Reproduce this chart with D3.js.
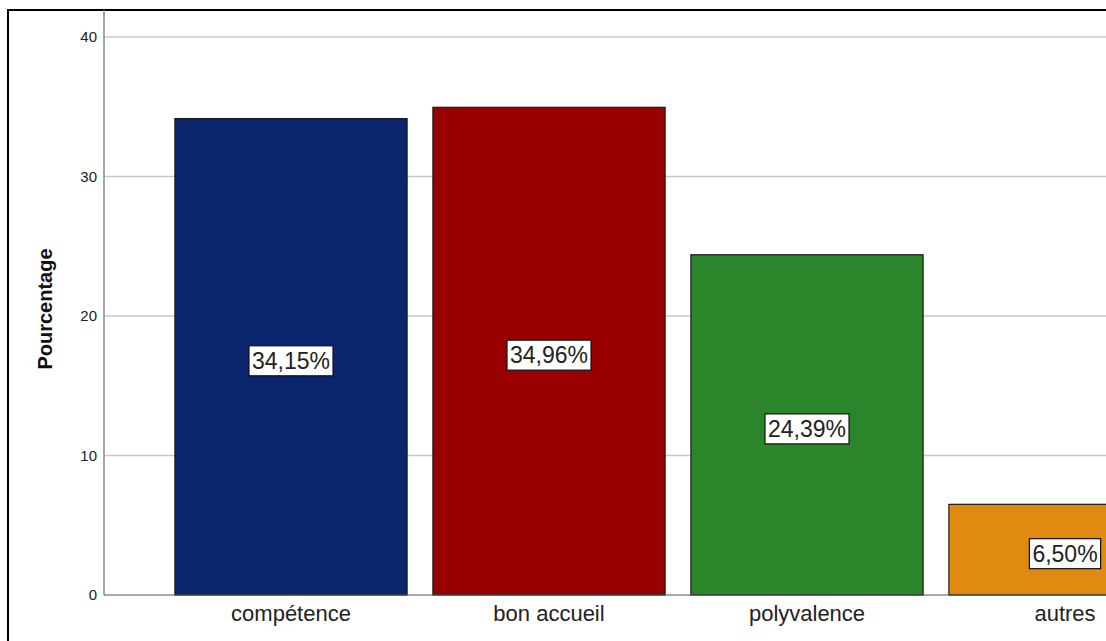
<!DOCTYPE html>
<html>
<head>
<meta charset="utf-8">
<script src="https://cdn.jsdelivr.net/npm/d3@7"></script>
<style>
  html, body { margin: 0; padding: 0; background: #fff; }
  svg { display: block; }
  text { font-family: Arial, "Liberation Sans", sans-serif; }
</style>
</head>
<body>
<svg id="chart" width="1106" height="641"></svg>
<script>
// Qualités citées (pourcentage des réponses)
const categories = ["compétence", "bon accueil", "polyvalence", "autres"];
const values = [34.15, 34.96, 24.39, 6.50];
const valueLabels = ["34,15%", "34,96%", "24,39%", "6,50%"];
const barColors = ["#0b266f", "#990000", "#2b852b", "#e08a12"];
const yTicks = [0, 10, 20, 30, 40];
const yTitle = "Pourcentage";

const W = 1106, H = 641;
const svg = d3.select("#chart");

const frame = { left: 8, top: 10 };
const plot = { left: 104, right: W + 40, top: 10, bottom: 595 };

const x = d3.scaleBand()
  .domain(categories)
  .range([162, 1194])
  .paddingInner(0.1)
  .paddingOuter(0.05);

const y = d3.scaleLinear()
  .domain([0, 40])
  .range([595, 37]);

// Outer frame (runs off the right and bottom edges)
svg.append("rect")
  .attr("x", frame.left).attr("y", frame.top)
  .attr("width", W + 20).attr("height", H + 20)
  .attr("fill", "#fff")
  .attr("stroke", "#000").attr("stroke-width", 2);

// Horizontal grid lines
svg.append("g")
  .selectAll("line")
  .data(yTicks.filter(d => d > 0))
  .join("line")
  .attr("x1", plot.left).attr("x2", plot.right)
  .attr("y1", d => y(d)).attr("y2", d => y(d))
  .attr("stroke", "#c8c8c8").attr("stroke-width", 1.5);

// Y axis: labels only, no tick marks
const yAxis = svg.append("g")
  .attr("transform", `translate(${plot.left},0)`)
  .call(d3.axisLeft(y).tickValues(yTicks).tickSize(0).tickPadding(7).tickFormat(d3.format("d")));
yAxis.select(".domain").remove();
yAxis.selectAll("text")
  .attr("font-size", 15).attr("fill", "#222")
  .attr("font-family", "Arial, 'Liberation Sans', sans-serif");

// Bars
svg.append("g")
  .selectAll("rect")
  .data(categories)
  .join("rect")
  .attr("x", d => x(d))
  .attr("y", (d, i) => y(values[i]))
  .attr("width", x.bandwidth())
  .attr("height", (d, i) => y(0) - y(values[i]))
  .attr("fill", (d, i) => barColors[i])
  .attr("stroke", "#1a1a1a").attr("stroke-width", 1.2);

// Axis lines
svg.append("line")
  .attr("x1", plot.left).attr("x2", plot.left)
  .attr("y1", plot.top).attr("y2", plot.bottom)
  .attr("stroke", "#8a8a8a").attr("stroke-width", 1.5);
svg.append("line")
  .attr("x1", plot.left).attr("x2", plot.right)
  .attr("y1", plot.bottom).attr("y2", plot.bottom)
  .attr("stroke", "#555").attr("stroke-width", 1.2);

// Category labels
const xAxis = svg.append("g")
  .attr("transform", `translate(0,${plot.bottom})`)
  .call(d3.axisBottom(x).tickSize(0).tickPadding(10));
xAxis.select(".domain").remove();
xAxis.selectAll("text")
  .attr("font-size", 22).attr("fill", "#222")
  .attr("font-family", "Arial, 'Liberation Sans', sans-serif");

// Value labels in white boxes at mid-height of each bar
const lab = svg.append("g")
  .selectAll("g")
  .data(categories)
  .join("g")
  .attr("transform", (d, i) => `translate(${x(d) + x.bandwidth() / 2},${y(values[i] / 2) + 4})`);

lab.append("rect").attr("class", "box")
  .attr("fill", "#fff").attr("stroke", "#111").attr("stroke-width", 1.2);

lab.append("text")
  .attr("text-anchor", "middle")
  .attr("dominant-baseline", "central")
  .attr("font-size", 23)
  .attr("fill", "#222")
  .text((d, i) => valueLabels[i]);

lab.each(function () {
  const g = d3.select(this);
  const bb = g.select("text").node().getBBox();
  g.select("rect.box")
    .attr("x", bb.x - 3).attr("y", bb.y - 2)
    .attr("width", bb.width + 6).attr("height", bb.height + 4);
});

// Y axis title
svg.append("text")
  .attr("transform", `translate(52,309) rotate(-90)`)
  .attr("text-anchor", "middle")
  .attr("font-size", 20)
  .attr("font-weight", "bold")
  .attr("fill", "#111")
  .text(yTitle);
</script>
</body>
</html>
